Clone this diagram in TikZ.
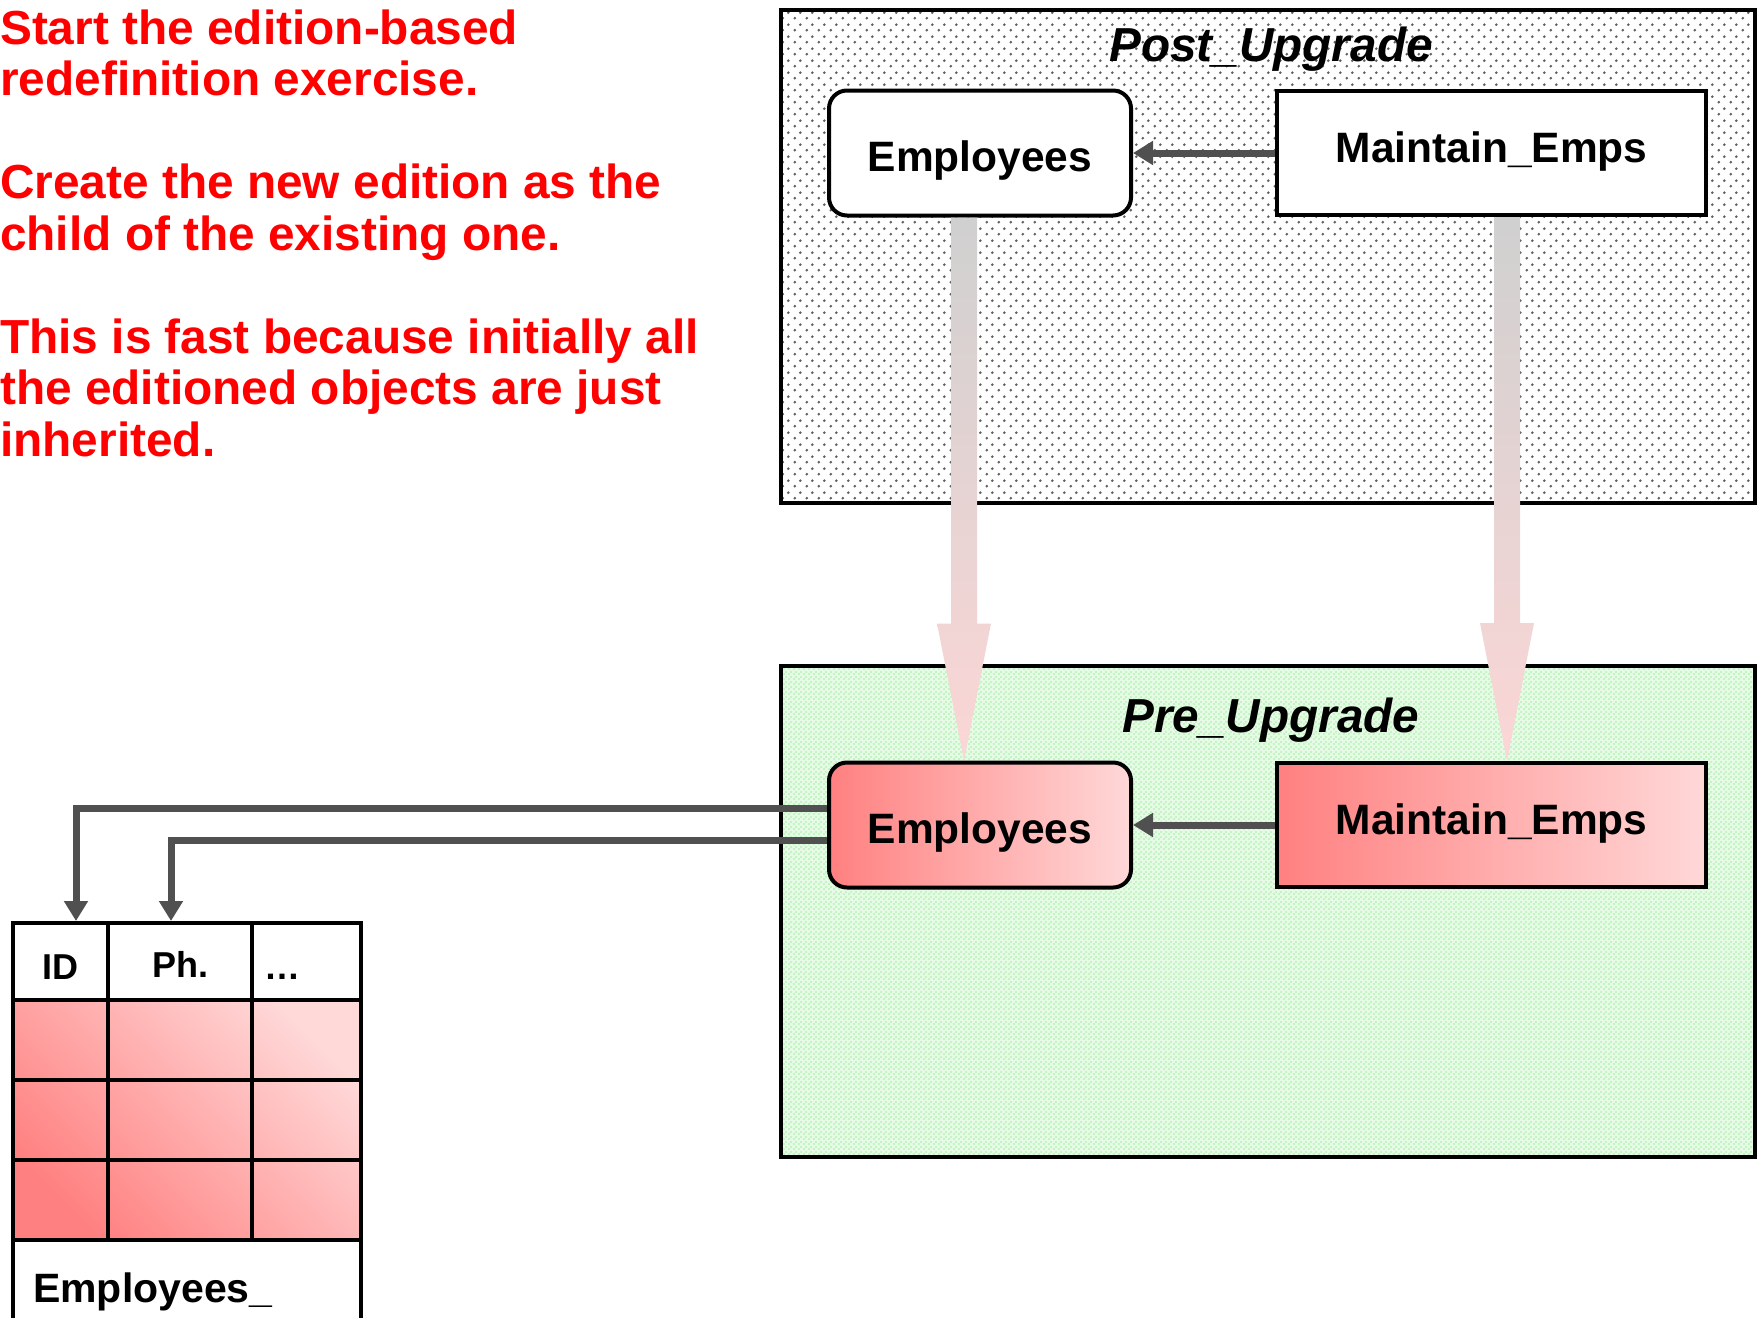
\documentclass[tikz,border=0pt]{standalone}
\usepackage{fontspec}
\setmainfont{Liberation Sans}
\usetikzlibrary{arrows.meta,patterns,calc}
\definecolor{ored}{RGB}{255,0,0}
\definecolor{linkgray}{RGB}{80,80,80}
\definecolor{pinkdark}{RGB}{255,128,128}
\definecolor{pinklight}{RGB}{255,216,216}
\definecolor{barGray}{RGB}{208,208,208}
\definecolor{barPink}{RGB}{252,214,214}
\definecolor{greenbg}{RGB}{230,250,230}
\definecolor{greendot}{RGB}{160,238,160}
\definecolor{graydot}{RGB}{95,95,95}
\pgfdeclarepatternformonly{graydots}{\pgfpoint{0pt}{0pt}}{\pgfpoint{12pt}{12pt}}{\pgfpoint{12pt}{12pt}}{%
  \pgfpathcircle{\pgfpoint{3pt}{3pt}}{1.6pt}%
  \pgfpathcircle{\pgfpoint{9pt}{9pt}}{1.6pt}%
  \pgfusepath{fill}}
\pgfdeclarepatternformonly{greendots}{\pgfpoint{0pt}{0pt}}{\pgfpoint{4.5pt}{4.5pt}}{\pgfpoint{4.5pt}{4.5pt}}{%
  \pgfpathcircle{\pgfpoint{1.125pt}{1.125pt}}{1pt}%
  \pgfpathcircle{\pgfpoint{3.375pt}{3.375pt}}{1pt}%
  \pgfusepath{fill}}
\begin{document}
\begin{tikzpicture}[x=1pt,y=-1pt,
  container/.style={draw=black, line width=3.5pt, minimum width=974pt, inner sep=0pt},
  postfill/.style={preaction={fill=white}, pattern=graydots, pattern color=graydot},
  prefill/.style={preaction={fill=greenbg}, pattern=greendots, pattern color=greendot},
  objbox/.style={draw=black, line width=4pt, inner sep=0pt, font=\fontsize{42.5pt}{48pt}\selectfont\bfseries},
  empbox/.style={objbox, rounded corners=18pt, minimum width=302pt, minimum height=125pt, text height=40pt, text depth=3pt},
  procbox/.style={objbox, minimum width=429pt, minimum height=124pt, text height=30pt, text depth=12pt},
  redfill/.style={left color=pinkdark, right color=pinklight},
  boxtitle/.style={font=\fontsize{47.7pt}{52pt}\selectfont\bfseries\itshape, anchor=base, inner sep=0pt},
  note/.style={font=\fontsize{47.8pt}{52pt}\selectfont\bfseries, text=ored, anchor=base west, inner sep=0pt},
  link/.style={draw=linkgray, line width=7pt, -{Triangle[length=20pt,width=23pt]}},
  inherit/.style={top color=barGray, bottom color=barPink, draw=none},
  hdr/.style={font=\fontsize{36pt}{40pt}\selectfont\bfseries, anchor=base, inner sep=0pt},
  tbl/.style={draw=black, line width=4pt}
]
\useasboundingbox (0,0) rectangle (1760,1317);
\clip (0,0) rectangle (1760,1317);

% containers
\node[container, postfill, minimum height=493pt] (post) at (1268,256.5) {};
\node[container, prefill, minimum height=491pt] (pre) at (1268,911.5) {};
\node[boxtitle] (posttitle) at (1271,61) {Post\_Upgrade};
\node[boxtitle] (pretitle) at (1271,732) {Pre\_Upgrade};

% objects
\node[empbox, fill=white] (Epost) at (980,153) {Employees};
\node[procbox, fill=white] (Mpost) at (1491.5,153) {Maintain\_Emps};
\node[empbox, redfill] (Epre) at (980,825) {Employees};
\node[procbox, redfill] (Mpre) at (1491.5,825) {Maintain\_Emps};

% inheritance arrows
\shade[inherit] ($(Epost.south)+(-29,0)$) -- ($(Epost.south)+(-3,0)$) -- ($(Epost.south)+(-3,406)$)
  -- ($(Epost.south)+(11,406)$) -- ($(Epre.north)+(-16,0)$) -- ($(Epost.south)+(-43,406)$)
  -- ($(Epost.south)+(-29,406)$) -- cycle;
\shade[inherit] ($(Mpost.south)+(2.5,0)$) -- ($(Mpost.south)+(28.5,0)$) -- ($(Mpost.south)+(28.5,406)$)
  -- ($(Mpost.south)+(42.5,406)$) -- ($(Mpre.north)+(15.5,0)$) -- ($(Mpost.south)+(-11.5,406)$)
  -- ($(Mpost.south)+(2.5,406)$) -- cycle;

% dependency arrows
\draw[link] (Mpost.west) -- (Epost.east);
\draw[link] (Mpre.west) -- (Epre.east);

% table
\shade[top color=pinklight, bottom color=pinkdark, shading angle=-45] (13,1000) rectangle (361,1240);
\draw[tbl] (13,1330) -- (13,923) -- (361,923) -- (361,1330);
\draw[tbl] (13,1000) -- (361,1000);
\draw[tbl] (13,1080) -- (361,1080);
\draw[tbl] (13,1160) -- (361,1160);
\draw[tbl] (13,1240) -- (361,1240);
\draw[tbl] (108,923) -- (108,1240);
\draw[tbl] (252,923) -- (252,1240);
\coordinate (idTop) at (76,921);
\coordinate (phTop) at (171,921);
\node[hdr] (hid) at (60,979) {ID};
\node[hdr] (hph) at (180,977) {Ph.};
\node[hdr, anchor=base west] (hmore) at (264,979) {…};
\node[font=\fontsize{41pt}{46pt}\selectfont\bfseries, anchor=base west, inner sep=0pt] (tname) at (33,1302) {Employees\_};

\draw[link] ([yshift=17pt]Epre.west) -| (idTop);
\draw[link] ([yshift=-15pt]Epre.west) -| (phTop);

% notes
\node[note] (n1) at (0,44) {Start the edition-based};
\node[note] (n2) at (0,95.5) {redefinition exercise.};
\node[note] (n3) at (0,198.5) {Create the new edition as the};
\node[note] (n4) at (0,250) {child of the existing one.};
\node[note] (n5) at (0,353) {This is fast because initially all};
\node[note] (n6) at (0,404.5) {the editioned objects are just};
\node[note] (n7) at (0,456) {inherited.};
\end{tikzpicture}
\end{document}
